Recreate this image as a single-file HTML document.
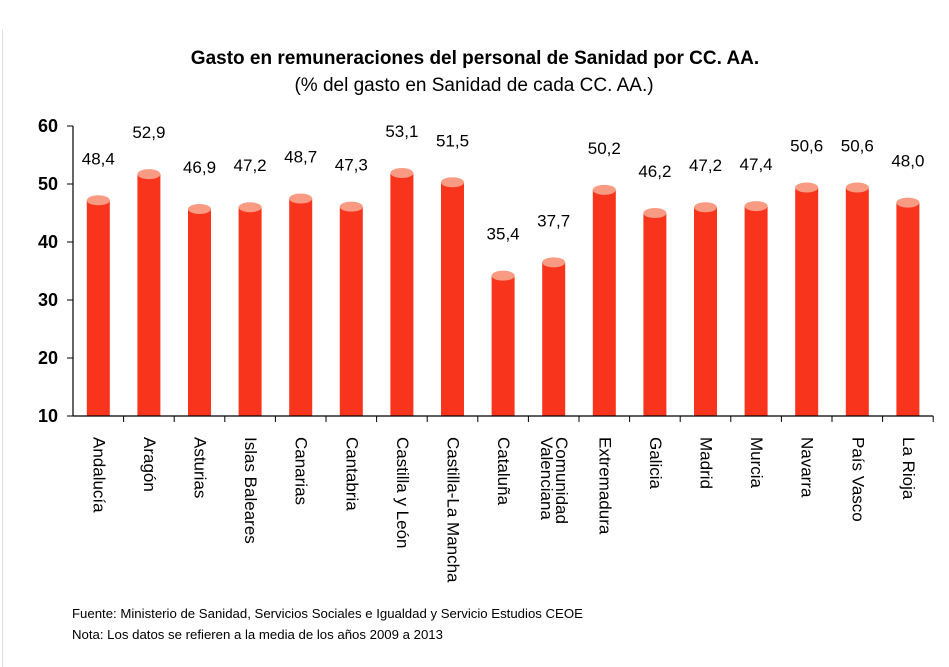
<!DOCTYPE html>
<html><head><meta charset="utf-8">
<style>
body{margin:0;background:#fff;}
svg{display:block;font-family:"Liberation Sans",sans-serif;}
</style></head>
<body>
<svg id="chart" width="949" height="667">
<line x1="2.5" y1="30" x2="2.5" y2="667" stroke="#ddd"/>
<text x="475" y="64" text-anchor="middle" font-size="19" font-weight="bold">Gasto en remuneraciones del personal de Sanidad por CC. AA.</text>
<text x="474" y="91" text-anchor="middle" font-size="19">(% del gasto en Sanidad de cada CC. AA.)</text>
<g id="yaxis"></g>
<g id="bars"></g>
<g id="xaxis"></g>
<text x="72" y="618" font-size="13.2">Fuente: Ministerio de Sanidad, Servicios Sociales e Igualdad y Servicio Estudios CEOE</text>
<text x="72" y="639" font-size="13.2">Nota: Los datos se refieren a la media de los años 2009 a 2013</text>
</svg>
<script>
const categories=["Andalucía","Aragón","Asturias","Islas Baleares","Canarias","Cantabria","Castilla y León","Castilla-La Mancha","Cataluña","Comunidad|Valenciana","Extremadura","Galicia","Madrid","Murcia","Navarra","País Vasco","La Rioja"];
const values=[48.4,52.9,46.9,47.2,48.7,47.3,53.1,51.5,35.4,37.7,50.2,46.2,47.2,47.4,50.6,50.6,48.0];
const labels=["48,4","52,9","46,9","47,2","48,7","47,3","53,1","51,5","35,4","37,7","50,2","46,2","47,2","47,4","50,6","50,6","48,0"];
const yTicks=[10,20,30,40,50,60];
const NS="http://www.w3.org/2000/svg";
const x0=73,step=50.6,y10=416,ppu=5.8;
function y(v){return y10-(v-10)*ppu;}
function xc(i){return x0+step*(i+0.5);}
function mk(t,a,p){const e=document.createElementNS(NS,t);for(const k in a)e.setAttribute(k,a[k]);p.appendChild(e);return e;}
const ya=document.getElementById('yaxis'),ba=document.getElementById('bars'),xa=document.getElementById('xaxis');
let l=mk('line',{x1:x0,y1:y(60),x2:x0,y2:y(10),stroke:'#000','stroke-width':1.2},ya);


yTicks.forEach(t=>{
 let tk=mk('line',{x1:x0-6,y1:y(t),x2:x0,y2:y(t),stroke:'#000'},ya);
 
 
 let tx=mk('text',{x:x0-15,y:y(t)+6,'text-anchor':'end','font-size':18,'font-weight':'bold'},ya);
 tx.textContent=t;
 
 
});
let xl=mk('line',{x1:x0,y1:y10,x2:x0+step*17,y2:y10,stroke:'#000','stroke-width':1.2},xa);


categories.forEach((c,i)=>{
 const cx=xc(i),top=y(values[i])+7,w=23;
 let r=mk('rect',{x:cx-w/2,y:top,width:w,height:y10-top,fill:'#f9341c'},ba);
 
 
 let e=mk('ellipse',{cx:cx,cy:top,rx:w/2,ry:5,fill:'#f99a82'},ba);
 
 
 let lt=mk('text',{x:cx,y:y(values[i])-29,'text-anchor':'middle','font-size':17},ba);
 lt.textContent=labels[i];
 
 
 let tk=mk('line',{x1:x0+step*(i+1),y1:y10,x2:x0+step*(i+1),y2:y10+6,stroke:'#000'},xa);
 
 
 const lines=c.split('|');
 lines.forEach((s,j)=>{
  const off=(j-(lines.length-1)/2)*15;
  let t=mk('text',{transform:`translate(${cx-off-5},437) rotate(90)`,'font-size':17},xa);
  t.textContent=s;
  
  
 });
});
</script>
</body></html>
